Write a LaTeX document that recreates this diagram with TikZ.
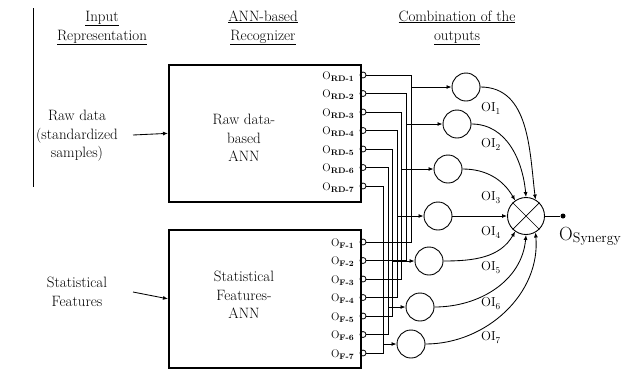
\documentclass[tikz,border=0pt]{standalone}
\usetikzlibrary{arrows.meta}
\newcommand\olab[2]{O\raisebox{-2.4pt}{\fontsize{8}{8}\selectfont\bfseries #1-#2}}
\newcommand\oilab[1]{OI\raisebox{-3pt}{\fontsize{9}{9}\selectfont #1}}
\begin{document}
\begin{tikzpicture}[x=1pt,y=-1pt,
  wire/.style={line width=0.85pt},
  arr/.style={-{Latex[length=5pt,width=4pt]}},
  neuron/.style={circle,draw,line width=0.9pt,minimum size=28pt,inner sep=0pt},
  annbox/.style={draw,line width=1.7pt,inner sep=0pt,anchor=north west},
  stub/.style={circle,draw,line width=0.8pt,minimum size=6pt,inner sep=0pt},
  lab/.style={font=\fontsize{11}{12}\selectfont,anchor=base east,inner sep=0pt},
  head/.style={font=\fontsize{15}{18}\selectfont,anchor=base,inner sep=0pt},
  txt/.style={font=\fontsize{15}{18.5}\selectfont,align=center,inner sep=0pt},
  oi/.style={font=\fontsize{13}{13}\selectfont,anchor=base west,inner sep=0pt}]
\useasboundingbox (0,0) rectangle (640,376);
% left rule
\coordinate (ruleA) at (33,8);
\coordinate (ruleB) at (33,187);
\draw[line width=0.8pt] (ruleA) -- (ruleB);
% headings
\node[head] (h1a) at (102,21) {\underline{Input}};
\node[head] (h1b) at (102,40) {\underline{Representation}};
\node[head] (h2a) at (263,21) {\underline{ANN-based}};
\node[head] (h2b) at (263,40) {\underline{Recognizer}};
\node[head] (h3a) at (457,21) {\underline{Combination of the}};
\node[head] (h3b) at (457,40) {\underline{outputs}};
% inputs
\node[txt] (raw) at (77,136) {Raw data\\(standardized\\samples)};
\node[txt] (stat) at (77,292) {Statistical\\Features};
% boxes
\node[annbox,minimum width=192pt,minimum height=137pt] (box1) at (168,64) {};
\node[annbox,minimum width=192pt,minimum height=138pt] (box2) at (168,229) {};
\node[txt] (box1t) at (244,138) {Raw data-\\based\\ANN};
\node[txt] (box2t) at (244,295) {Statistical\\Features-\\ANN};
\coordinate (a1) at (133,135);
\coordinate (a2) at (133,292);
\draw[wire,arr] (a1) -- (box1.west);
\draw[wire,arr] (a2) -- (box2.west);
% output stubs and labels
\foreach \i in {1,...,7}{
  \node[stub] (r\i) at (363,{75+18.5*(\i-1)}) {};
  \node[lab] (rl\i) at (354,{79+18.5*(\i-1)}) {\olab{RD}{\i}};
  \node[stub] (f\i) at (363,{242+18.5*(\i-1)}) {};
  \node[lab] (fl\i) at (354,{246+18.5*(\i-1)}) {\olab{F}{\i}};
}
% neurons
\foreach \i/\x/\y/\xv in {1/466/87/411,2/457/124/406.4,3/448/169/401.8,4/438/216/397.2,5/429/261/392.6,6/420/307/388,7/411/344/383.4}{
  \node[neuron] (c\i) at (\x,\y) {};
  \coordinate (j\i) at (\xv,\y);
}
% wiring
\foreach \i in {1,...,7}{
  \draw[wire] (r\i.east) -| (j\i);
  \draw[wire] (f\i.east) -| (j\i);
  \draw[wire,arr] (j\i) -- (c\i.west);
}
% combiner
\node[circle,draw,line width=0.9pt,minimum size=37pt,inner sep=0pt] (comb) at (526,216) {};
\draw[line width=0.7pt] (comb.45) -- (comb.225) (comb.135) -- (comb.-45);
\draw[wire,arr] (c1.east) to[out=0,in=97] (comb.60);
\draw[wire,arr] (c2.east) to[out=0,in=95] (comb.90);
\draw[wire,arr] (c3.east) to[out=0,in=120] (comb.125);
\draw[wire,arr] (c4.east) -- (comb.west);
\draw[wire,arr] (c5.east) to[out=0,in=-120] (comb.-125);
\draw[wire,arr] (c6.east) to[out=0,in=-95] (comb.-90);
\draw[wire,arr] (c7.east) to[out=0,in=-85] (comb.-60);
% OI labels
\node[oi] (oi1) at (481,111) {\oilab{1}};
\node[oi] (oi2) at (481,147) {\oilab{2}};
\node[oi] (oi3) at (481,200) {\oilab{3}};
\node[oi] (oi4) at (481,235) {\oilab{4}};
\node[oi] (oi5) at (481,270) {\oilab{5}};
\node[oi] (oi6) at (481,306) {\oilab{6}};
\node[oi] (oi7) at (481,340) {\oilab{7}};
% output
\node[circle,fill,inner sep=0pt,minimum size=5pt] (dot) at (563,216) {};
\draw[wire] (comb.east) -- (dot);
\node[anchor=base west,inner sep=0pt] (osyn) at (559,240) {\fontsize{19}{19}\selectfont O\raisebox{-2pt}{\fontsize{14}{14}\selectfont Synergy}};
\end{tikzpicture}
\end{document}
